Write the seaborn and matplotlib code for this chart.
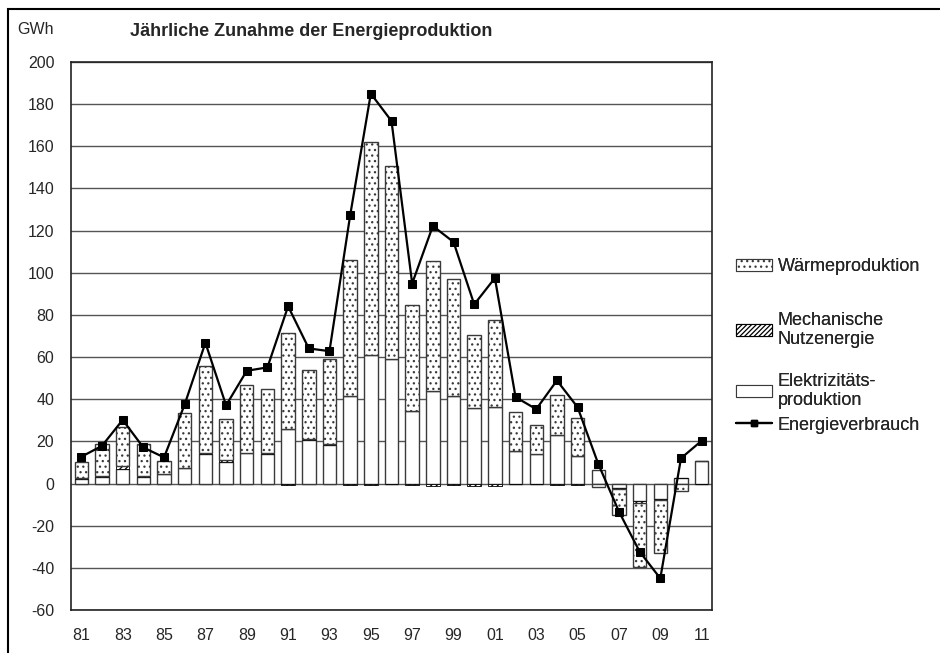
import numpy as np
import matplotlib
matplotlib.use('Agg')
import matplotlib.pyplot as plt
import seaborn as sns
from matplotlib.patches import Patch, Rectangle
from matplotlib.lines import Line2D

# Jahre 1981 - 2011
years = ['81', '82', '83', '84', '85', '86', '87', '88', '89', '90',
         '91', '92', '93', '94', '95', '96', '97', '98', '99', '00',
         '01', '02', '03', '04', '05', '06', '07', '08', '09', '10', '11']

# GWh
elektrizitaet = [2.0, 3.0, 7.0, 3.0, 4.4, 7.3, 13.8, 10.3, 14.3, 14.0,
                 26.1, 20.6, 18.5, 41.5, 60.9, 59.2, 34.5, 43.8, 41.5, 35.8,
                 36.1, 15.5, 14.2, 22.9, 13.0, 6.5, -2.0, -8.4, -7.3, 2.5, 10.6]
mechanisch = [0.5, 0.7, 1.2, 0.5, 0.3, 0.2, 0.8, 0.8, 0.3, 0.3,
              -0.6, 0.3, 0.2, -0.5, -0.5, -0.3, -0.5, -1.2, -0.5, -1.2,
              -1.2, -0.3, -0.3, -0.5, -0.5, -0.3, -0.5, -0.6, -0.5, 0.0, -0.3]
waerme = [7.8, 14.9, 18.8, 15.1, 6.1, 26.1, 41.4, 19.4, 32.2, 30.5,
          45.5, 33.2, 40.2, 64.5, 101.1, 91.3, 50.3, 61.9, 55.5, 34.9,
          41.7, 18.4, 13.5, 18.9, 17.9, -1.5, -12.4, -30.7, -25.1, -3.5, 0.0]
energieverbrauch = [12.7, 17.9, 30.2, 17.1, 12.4, 37.6, 66.8, 37.1, 53.5, 55.1,
                    84.1, 64.1, 62.8, 127.2, 185.0, 172.0, 94.9, 122.2, 114.6, 85.0,
                    97.5, 41.0, 35.3, 48.9, 36.2, 9.3, -13.3, -32.3, -45.0, 12.0, 20.3]

sns.set_style('white')
plt.rcParams['font.family'] = ['Liberation Sans', 'DejaVu Sans']
plt.rcParams['hatch.linewidth'] = 0.9
plt.rcParams['axes.unicode_minus'] = False

# stacking like Excel: positive values up, negative values down
elek = np.array(elektrizitaet)
mech = np.array(mechanisch)
warm = np.array(waerme)
pos = np.zeros(len(years))
neg = np.zeros(len(years))
bottoms = []
for vals in [elek, mech, warm]:
    b = np.where(vals >= 0, pos, neg)
    bottoms.append(b)
    pos = pos + np.clip(vals, 0, None)
    neg = neg + np.clip(vals, None, 0)

fig = plt.figure(figsize=(9.4, 6.53), dpi=100)
ax = fig.add_axes([71/940, 1 - 610/653, (712 - 71)/940, (610 - 62)/653])

edge = '#3a3a3a'
sns.barplot(x=years, y=elektrizitaet, order=years, bottom=bottoms[0], color='white',
            edgecolor=edge, linewidth=1, width=0.65, saturation=1, ax=ax, zorder=3)
sns.barplot(x=years, y=mechanisch, order=years, bottom=bottoms[1], color='white',
            edgecolor='black', linewidth=0.6, hatch='//////', width=0.65, saturation=1,
            ax=ax, zorder=3)
sns.barplot(x=years, y=waerme, order=years, bottom=bottoms[2], color='white',
            edgecolor=edge, linewidth=1, hatch='...', width=0.65, saturation=1, ax=ax, zorder=3)

sns.lineplot(x=np.arange(len(years)), y=energieverbrauch, color='black', linewidth=1.6,
             marker='s', markersize=5.5, markeredgecolor='black', ax=ax, zorder=4)

ax.set_ylim(-60, 200)
ax.set_xlim(-0.5, len(years) - 0.5)
ax.set_yticks(range(-60, 201, 20))
ax.set_xticks(range(0, len(years), 2))
ax.set_xticklabels(years[::2])
ax.yaxis.grid(True, color='#555555', linewidth=1)
ax.set_axisbelow(True)
ax.tick_params(axis='both', length=0, labelsize=11.5)
ax.tick_params(axis='x', pad=13)
ax.tick_params(axis='y', pad=12)
ax.set_xlabel('')
ax.set_ylabel('')
for s in ax.spines.values():
    s.set_color('#222222')
    s.set_linewidth(1.2)

fig.text(35/940, 1 - 30/653, 'GWh', fontsize=11.5, ha='center', va='center')
fig.text(311/940, 1 - 31/653, 'Jährliche Zunahme der Energieproduktion', fontsize=13,
         fontweight='bold', ha='center', va='center')

# legend entries placed one by one (uneven spacing as in the original)
entries = [
    (Patch(facecolor='white', edgecolor=edge, hatch='...', linewidth=0.8),
     'Wärmeproduktion', 267),
    (Patch(facecolor='white', edgecolor='black', hatch='///////', linewidth=0.8),
     'Mechanische\nNutzenergie', 330),
    (Patch(facecolor='white', edgecolor=edge, linewidth=0.8),
     'Elektrizitäts-\nproduktion', 391),
    (Line2D([], [], color='black', linewidth=1.6, marker='s', markersize=5),
     'Energieverbrauch', 425),
]
for handle, label, ypix in entries:
    leg = fig.legend([handle], [label], loc='center left',
                     bbox_to_anchor=(736/940, 1 - ypix/653), frameon=False, fontsize=13,
                     handlelength=2.0, handleheight=0.6, handletextpad=0.3,
                     borderaxespad=0, borderpad=0)
    fig.add_artist(leg)

# outer frame of the chart
fig.patches.append(Rectangle((8/940, -0.05), 1.0, 1 - 9/653 + 0.05, transform=fig.transFigure,
                             fill=False, edgecolor='black', linewidth=1.5))

fig.savefig('out.png', dpi=100)
